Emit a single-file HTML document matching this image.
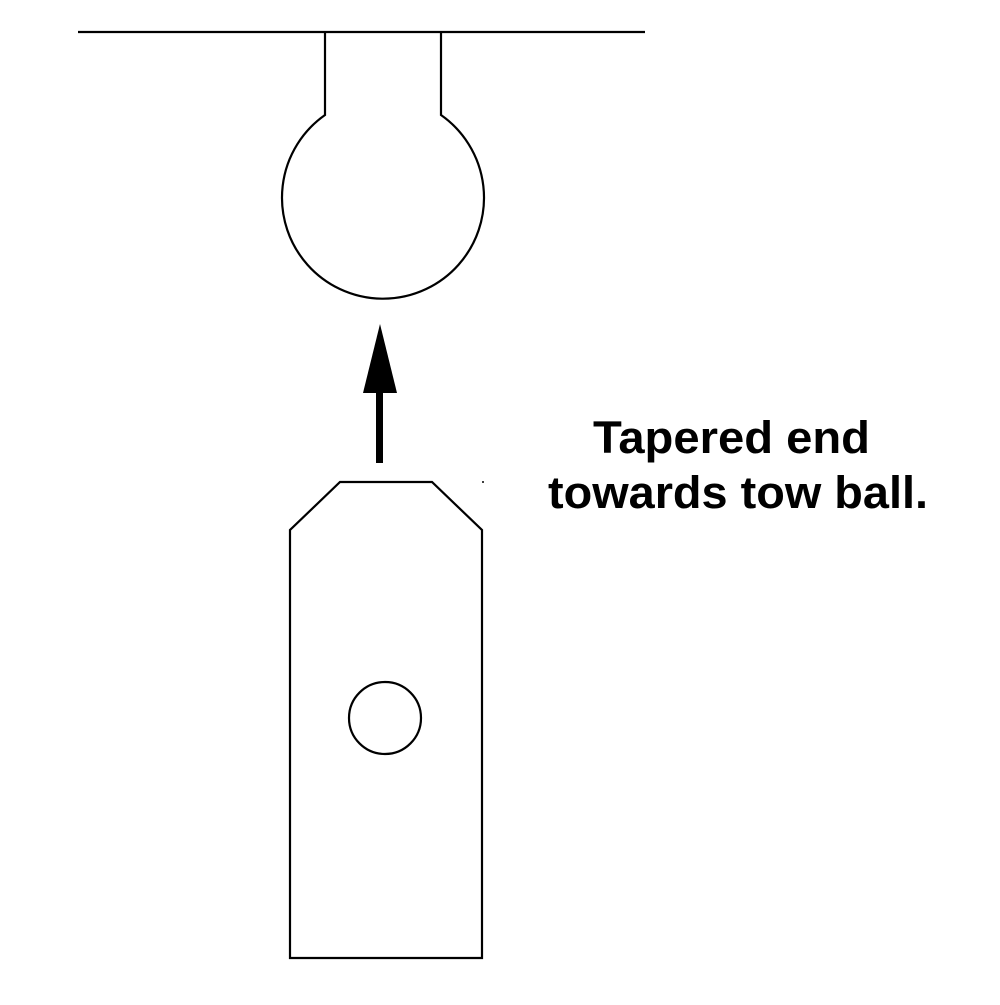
<!DOCTYPE html>
<html><head><meta charset="utf-8"><style>html,body{margin:0;padding:0;background:#fff}</style></head>
<body>
<svg width="1000" height="1000" viewBox="0 0 1000 1000" xmlns="http://www.w3.org/2000/svg">
<rect width="1000" height="1000" fill="#fff"/>
<g fill="none" stroke="#000" stroke-width="2.2">
<line x1="78" y1="32" x2="645" y2="32"/>
<path d="M325 32 V115 A101 101 0 1 0 441 115 V32"/>
<polygon points="290,958 290,530 340,482 432,482 482,530 482,958"/>
<circle cx="385" cy="718" r="36"/>
</g>
<rect x="376" y="392" width="7" height="71" fill="#000"/>
<polygon points="380,324 363,393 397,393" fill="#000"/>
<circle cx="483" cy="482" r="1" fill="#000"/>
<g font-family="Liberation Sans, sans-serif" font-weight="bold" font-size="45" fill="#000">
<text x="593" y="453" textLength="277" lengthAdjust="spacingAndGlyphs">Tapered end</text>
<text x="548" y="508" textLength="380" lengthAdjust="spacingAndGlyphs">towards tow ball.</text>
</g>
</svg>
</body></html>
